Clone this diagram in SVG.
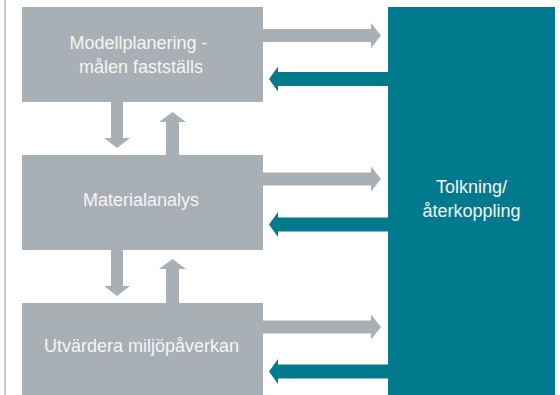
<svg xmlns="http://www.w3.org/2000/svg" width="560" height="395" viewBox="0 0 560 395">
<style>
.box{fill:#A9B0B5}
.teal{fill:#007A8C}
.garrow{fill:#A9B0B5}
.tarrow{fill:#007A8C}
.lbl{font-family:"Liberation Sans",Arial,sans-serif;font-size:18px;fill:#F4F5F5;text-anchor:middle}
</style>
<rect width="560" height="395" fill="#FFFFFF"/>
<rect x="4" y="0" width="2" height="395" fill="#C9CCCE"/>
<g id="connectors">
<polygon class="garrow" points="263,29 371,29 371,23 381,35.5 371,48 371,42 263,42"/>
<polygon class="garrow" points="263,172.5 371,172.5 371,166.5 381,179 371,191.5 371,185.5 263,185.5"/>
<polygon class="garrow" points="263,320.5 371,320.5 371,314.5 381,327 371,339.5 371,333.5 263,333.5"/>
<polygon class="tarrow" points="388,72 278,72 278,66.5 269,79 278,91.5 278,86 388,86"/>
<polygon class="tarrow" points="388,217.5 278,217.5 278,212 269,224.5 278,237 278,231.5 388,231.5"/>
<polygon class="tarrow" points="388,364.5 278,364.5 278,359 269,371.5 278,384 278,378.5 388,378.5"/>
<polygon class="garrow" points="111,102 123,102 123,138 130,138 117,148 104,138 111,138"/>
<polygon class="garrow" points="166,155 179,155 179,122 186,122 172.5,112 159,122 166,122"/>
<polygon class="garrow" points="111,250 123,250 123,286 130,286 117,296 104,286 111,286"/>
<polygon class="garrow" points="166,303 179,303 179,269 186,269 172.5,259 159,269 166,269"/>
</g>
<g id="modellplanering">
<rect class="box" x="22" y="7" width="241" height="95"/>
<text class="lbl" x="138.5" y="49">Modellplanering -</text>
<text class="lbl" x="141" y="73">målen fastställs</text>
</g>
<g id="materialanalys">
<rect class="box" x="22" y="155" width="241" height="95"/>
<text class="lbl" x="141" y="206">Materialanalys</text>
</g>
<g id="utvardera">
<rect class="box" x="22" y="303" width="241" height="92"/>
<text class="lbl" x="141.5" y="352">Utvärdera miljöpåverkan</text>
</g>
<g id="tolkning">
<rect class="teal" x="388" y="7" width="167" height="388"/>
<text class="lbl" x="471.5" y="193">Tolkning/</text>
<text class="lbl" x="471.5" y="217">återkoppling</text>
</g>
</svg>
